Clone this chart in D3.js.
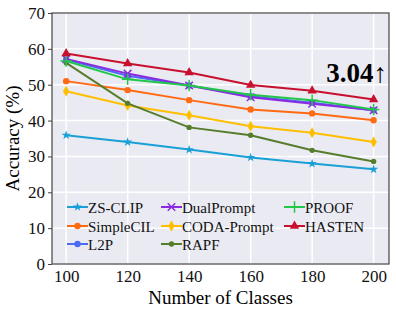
<!DOCTYPE html>
<html>
<head>
<meta charset="utf-8">
<script src="https://cdn.jsdelivr.net/npm/d3@7"></script>
<style>
  body { margin: 0; background: #fff; }
  svg text { font-family: "Times New Roman", "Liberation Serif", Times, serif !important; }
</style>
</head>
<body>
<div id="chart"></div>
<script>
var classes = [100, 120, 140, 160, 180, 200];
var yTicks = [0, 10, 20, 30, 40, 50, 60, 70];

var zsclip = [35.9, 34.0, 31.9, 29.7, 28.0, 26.4];
var simplecil = [51.0, 48.5, 45.7, 43.1, 42.0, 40.1];
var l2p = [57.0, 52.5, 49.8, 46.8, 45.0, 42.9];
var dualprompt = [57.2, 53.1, 49.8, 46.5, 44.7, 42.9];
var codaprompt = [48.2, 44.2, 41.5, 38.4, 36.6, 34.0];
var rapf = [56.1, 44.8, 38.1, 35.9, 31.7, 28.6];
var proof = [56.6, 51.5, 49.8, 47.2, 45.7, 43.1];
var hasten = [58.7, 55.9, 53.4, 49.9, 48.3, 45.9];

var series = [
  { name: 'ZS-CLIP', values: zsclip, color: '#1aa0d6', marker: 'star' },
  { name: 'SimpleCIL', values: simplecil, color: '#ff6a13', marker: 'circle' },
  { name: 'L2P', values: l2p, color: '#4a6cf2', marker: 'circle' },
  { name: 'DualPrompt', values: dualprompt, color: '#8a2be2', marker: 'x' },
  { name: 'CODA-Prompt', values: codaprompt, color: '#ffbf00', marker: 'diamond' },
  { name: 'RAPF', values: rapf, color: '#567d2c', marker: 'pentagon' },
  { name: 'PROOF', values: proof, color: '#22c74a', marker: 'plus' },
  { name: 'HASTEN', values: hasten, color: '#c8102e', marker: 'triangle' }
];
// draw order so HASTEN is on top
var drawOrder = ['ZS-CLIP', 'SimpleCIL', 'CODA-Prompt', 'RAPF', 'L2P', 'DualPrompt', 'PROOF', 'HASTEN'];

var width = 396, height = 315;
var margin = { top: 13, right: 7, bottom: 51, left: 52 };

var svg = d3.select('#chart').append('svg')
    .attr('width', width)
    .attr('height', height)
    .attr('font-family', '"Times New Roman", "Liberation Serif", serif');

var x = d3.scaleLinear().domain([95.4, 205]).range([margin.left, width - margin.right]);
var y = d3.scaleLinear().domain([0, 70]).range([height - margin.bottom, margin.top]);

svg.append('rect')
    .attr('x', margin.left).attr('y', margin.top)
    .attr('width', width - margin.left - margin.right)
    .attr('height', height - margin.top - margin.bottom)
    .style('fill', '#eaeaf2');

var grid = svg.append('g');
grid.selectAll('.gx').data(classes).enter().append('line')
    .attr('x1', d => x(d)).attr('x2', d => x(d))
    .attr('y1', margin.top).attr('y2', height - margin.bottom)
    .style('stroke', '#fff').style('stroke-width', 1.5);
grid.selectAll('.gy').data(yTicks).enter().append('line')
    .attr('y1', d => y(d)).attr('y2', d => y(d))
    .attr('x1', margin.left).attr('x2', width - margin.right)
    .style('stroke', '#fff').style('stroke-width', 1.5);

function isStroke(type) { return type === 'x' || type === 'plus'; }

function markerPath(type, s) {
  var sym;
  if (type === 'star') sym = d3.symbol(d3.symbolStar, s * 0.8);
  else if (type === 'circle') sym = d3.symbol(d3.symbolCircle, s);
  else if (type === 'diamond') sym = d3.symbol(d3.symbolDiamond, s * 1.1);
  else if (type === 'triangle') sym = d3.symbol(d3.symbolTriangle, s * 1.2);
  else if (type === 'pentagon') sym = d3.symbol(d3.symbolCircle, s * 0.7);
  else if (type === 'x') sym = d3.symbol(d3.symbolTimes, s * 1.2);
  else sym = d3.symbol(d3.symbolPlus, s * 1.4);
  return sym();
}

var line = d3.line().x((d, i) => x(classes[i])).y(d => y(d));

var plot = svg.append('g');
drawOrder.forEach(function (nm) {
  var s = series.find(d => d.name === nm);
  plot.append('path')
      .datum(s.values)
      .attr('d', line)
      .style('fill', 'none')
      .style('stroke', s.color)
      .style('stroke-width', 2);
  plot.selectAll('.m').data(s.values).enter().append('path')
      .attr('transform', (d, i) => 'translate(' + x(classes[i]) + ',' + y(d) + ')')
      .attr('d', markerPath(s.marker, 32))
      .style('fill', isStroke(s.marker) ? 'none' : s.color)
      .style('stroke', s.color)
      .style('stroke-width', isStroke(s.marker) ? 1.5 : 0);
});

// frame
svg.append('rect')
    .attr('x', margin.left).attr('y', margin.top)
    .attr('width', width - margin.left - margin.right)
    .attr('height', height - margin.top - margin.bottom)
    .style('fill', 'none').style('stroke', '#444').style('stroke-width', 1.2);

var xAxis = svg.append('g')
    .attr('transform', 'translate(0,' + (height - margin.bottom) + ')')
    .call(d3.axisBottom(x).tickValues(classes).tickSize(0).tickPadding(6));
var yAxis = svg.append('g')
    .attr('transform', 'translate(' + margin.left + ',0)')
    .call(d3.axisLeft(y).tickValues(yTicks).tickSize(4).tickPadding(3));
[xAxis, yAxis].forEach(function (a) {
  a.attr('font-family', null).attr('font-size', null);
  a.select('.domain').remove();
  a.selectAll('text').style('font-size', '17px').style('fill', '#111');
  a.selectAll('line').style('stroke', '#444');
});

svg.append('text')
    .attr('x', (margin.left + width - margin.right) / 2)
    .attr('y', 304)
    .attr('text-anchor', 'middle')
    .style('font-size', '19px')
    .text('Number of Classes');

svg.append('text')
    .attr('transform', 'translate(19,' + ((margin.top + height - margin.bottom) / 2) + ') rotate(-90)')
    .attr('text-anchor', 'middle')
    .style('font-size', '19px')
    .text('Accuracy (%)');

svg.append('text')
    .attr('x', 387).attr('y', 82)
    .attr('text-anchor', 'end')
    .style('font-size', '27px')
    .style('font-weight', 'bold')
    .text('3.04\u2191');

// legend, 3 columns filled column-wise
var legend = svg.append('g');
var colX = [67, 161, 284];
var rowY = [207, 226, 244];
series.forEach(function (s, i) {
  var c = Math.floor(i / 3), r = i % 3;
  var g = legend.append('g').attr('transform', 'translate(' + colX[c] + ',' + rowY[r] + ')');
  g.append('line').attr('x1', 0).attr('x2', 21).attr('y1', 0).attr('y2', 0)
      .style('stroke', s.color).style('stroke-width', 2);
  g.append('path').attr('transform', 'translate(10.5,0)')
      .attr('d', markerPath(s.marker, 32))
      .style('fill', isStroke(s.marker) ? 'none' : s.color)
      .style('stroke', s.color)
      .style('stroke-width', isStroke(s.marker) ? 1.5 : 0);
  g.append('text').attr('x', 21).attr('y', 5.5)
      .style('font-size', '15px').style('fill', '#111')
      .text(s.name);
});
</script>
</body>
</html>
